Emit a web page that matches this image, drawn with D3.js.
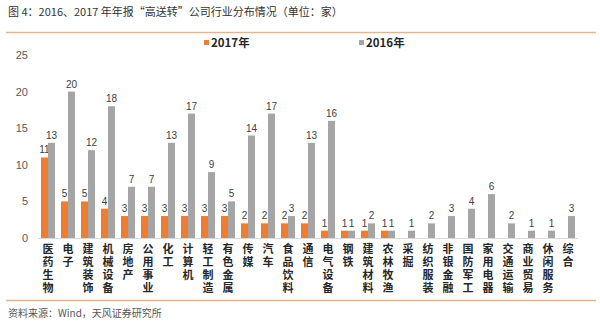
<!DOCTYPE html>
<html><head><meta charset="utf-8">
<script src="https://cdn.jsdelivr.net/npm/d3@7"></script>
<style>body{margin:0;background:#fff;}svg{display:block;font-family:"Noto Sans CJK SC","Liberation Sans",Arial,sans-serif;}</style>
</head><body>
<svg id="c" width="600" height="323"></svg>
<script>
const categories = ["医药生物","电子","建筑装饰","机械设备","房地产","公用事业","化工","计算机","轻工制造","有色金属","传媒","汽车","食品饮料","通信","电气设备","钢铁","建筑材料","农林牧渔","采掘","纺织服装","非银金融","国防军工","家用电器","交通运输","商业贸易","休闲服务","综合"];
const values2017 = [11,5,5,4,3,3,3,3,3,3,2,2,2,2,1,1,1,1,0,0,0,0,0,0,0,0,0];
const values2016 = [13,20,12,18,7,7,13,17,9,5,14,17,3,13,16,1,2,1,1,2,3,4,6,2,1,1,3];
const yTicks = [0,5,10,15,20,25];
const seriesNames = ["2017年","2016年"];
const colors = ["#ED7D31","#A5A5A5"];

const svg = d3.select("#c");
const x = d3.scaleBand().domain(categories).range([38,578]).paddingInner(0.3).paddingOuter(0.15);
const xs = d3.scaleBand().domain([0,1]).range([0,x.bandwidth()]);
const y = d3.scaleLinear().domain([0,25]).range([238,55]);

// title
svg.append("text").attr("x",8).attr("y",16).attr("font-size",11).attr("fill","#333")
  .text("图 4：2016、2017 年年报“高送转”公司行业分布情况（单位：家）");
svg.append("line").attr("x1",6).attr("x2",596).attr("y1",32.5).attr("y2",32.5).attr("stroke","#E6B48C").attr("stroke-width",1.5);
svg.append("line").attr("x1",6).attr("x2",596).attr("y1",300.5).attr("y2",300.5).attr("stroke","#E6B48C").attr("stroke-width",1.5);
svg.append("text").attr("x",8).attr("y",317).attr("font-size",10).attr("fill","#555")
  .text("资料来源：Wind，天风证券研究所");

// y axis
const ya = svg.append("g").attr("transform","translate(30,0)")
  .call(d3.axisLeft(y).tickValues(yTicks).tickSize(0).tickPadding(2));
ya.select(".domain").remove();
ya.selectAll("text").attr("font-size",11).attr("fill","#595959").attr("font-family","Liberation Sans, Arial, sans-serif");

// x axis line
svg.append("line").attr("x1",38).attr("x2",578).attr("y1",238.5).attr("y2",238.5).attr("stroke","#D9D9D9");

const series = [values2017, values2016];
series.forEach((vals,si)=>{
  const g = svg.append("g");
  g.selectAll("rect").data(categories).join("rect")
    .attr("x",d=>x(d)+xs(si)).attr("width",xs.bandwidth())
    .attr("y",(d,i)=>y(vals[i])).attr("height",(d,i)=>y(0)-y(vals[i]))
    .attr("fill",colors[si]);
  g.selectAll("text").data(categories.filter((d,i)=>vals[i]>0)).join("text")
    .attr("x",d=>x(d)+xs(si)+xs.bandwidth()/2)
    .attr("y",d=>y(vals[categories.indexOf(d)])-4)
    .attr("text-anchor","middle").attr("font-size",10).attr("fill","#404040")
    .attr("font-family","Liberation Sans, Arial, sans-serif")
    .text(d=>vals[categories.indexOf(d)]);
});

// x labels vertical (single text each, vertical writing mode)
svg.append("g").selectAll("text").data(categories).join("text")
  .attr("x",d=>x(d)+x.bandwidth()/2).attr("y",243)
  .style("writing-mode","vertical-rl").style("text-orientation","upright")
  .attr("letter-spacing",2)
  .attr("font-size",11).attr("font-weight","bold").attr("fill","#262626")
  .text(d=>d);

// legend
const lg = svg.append("g");
[[204,211],[359,366]].forEach((p,i)=>{
  lg.append("rect").attr("x",p[0]).attr("y",40).attr("width",5).attr("height",5).attr("fill",colors[i]);
  lg.append("text").attr("x",p[1]).attr("y",47).attr("font-size",11.5).attr("font-weight","bold").attr("fill","#262626").text(seriesNames[i]);
});
</script>
</body></html>
